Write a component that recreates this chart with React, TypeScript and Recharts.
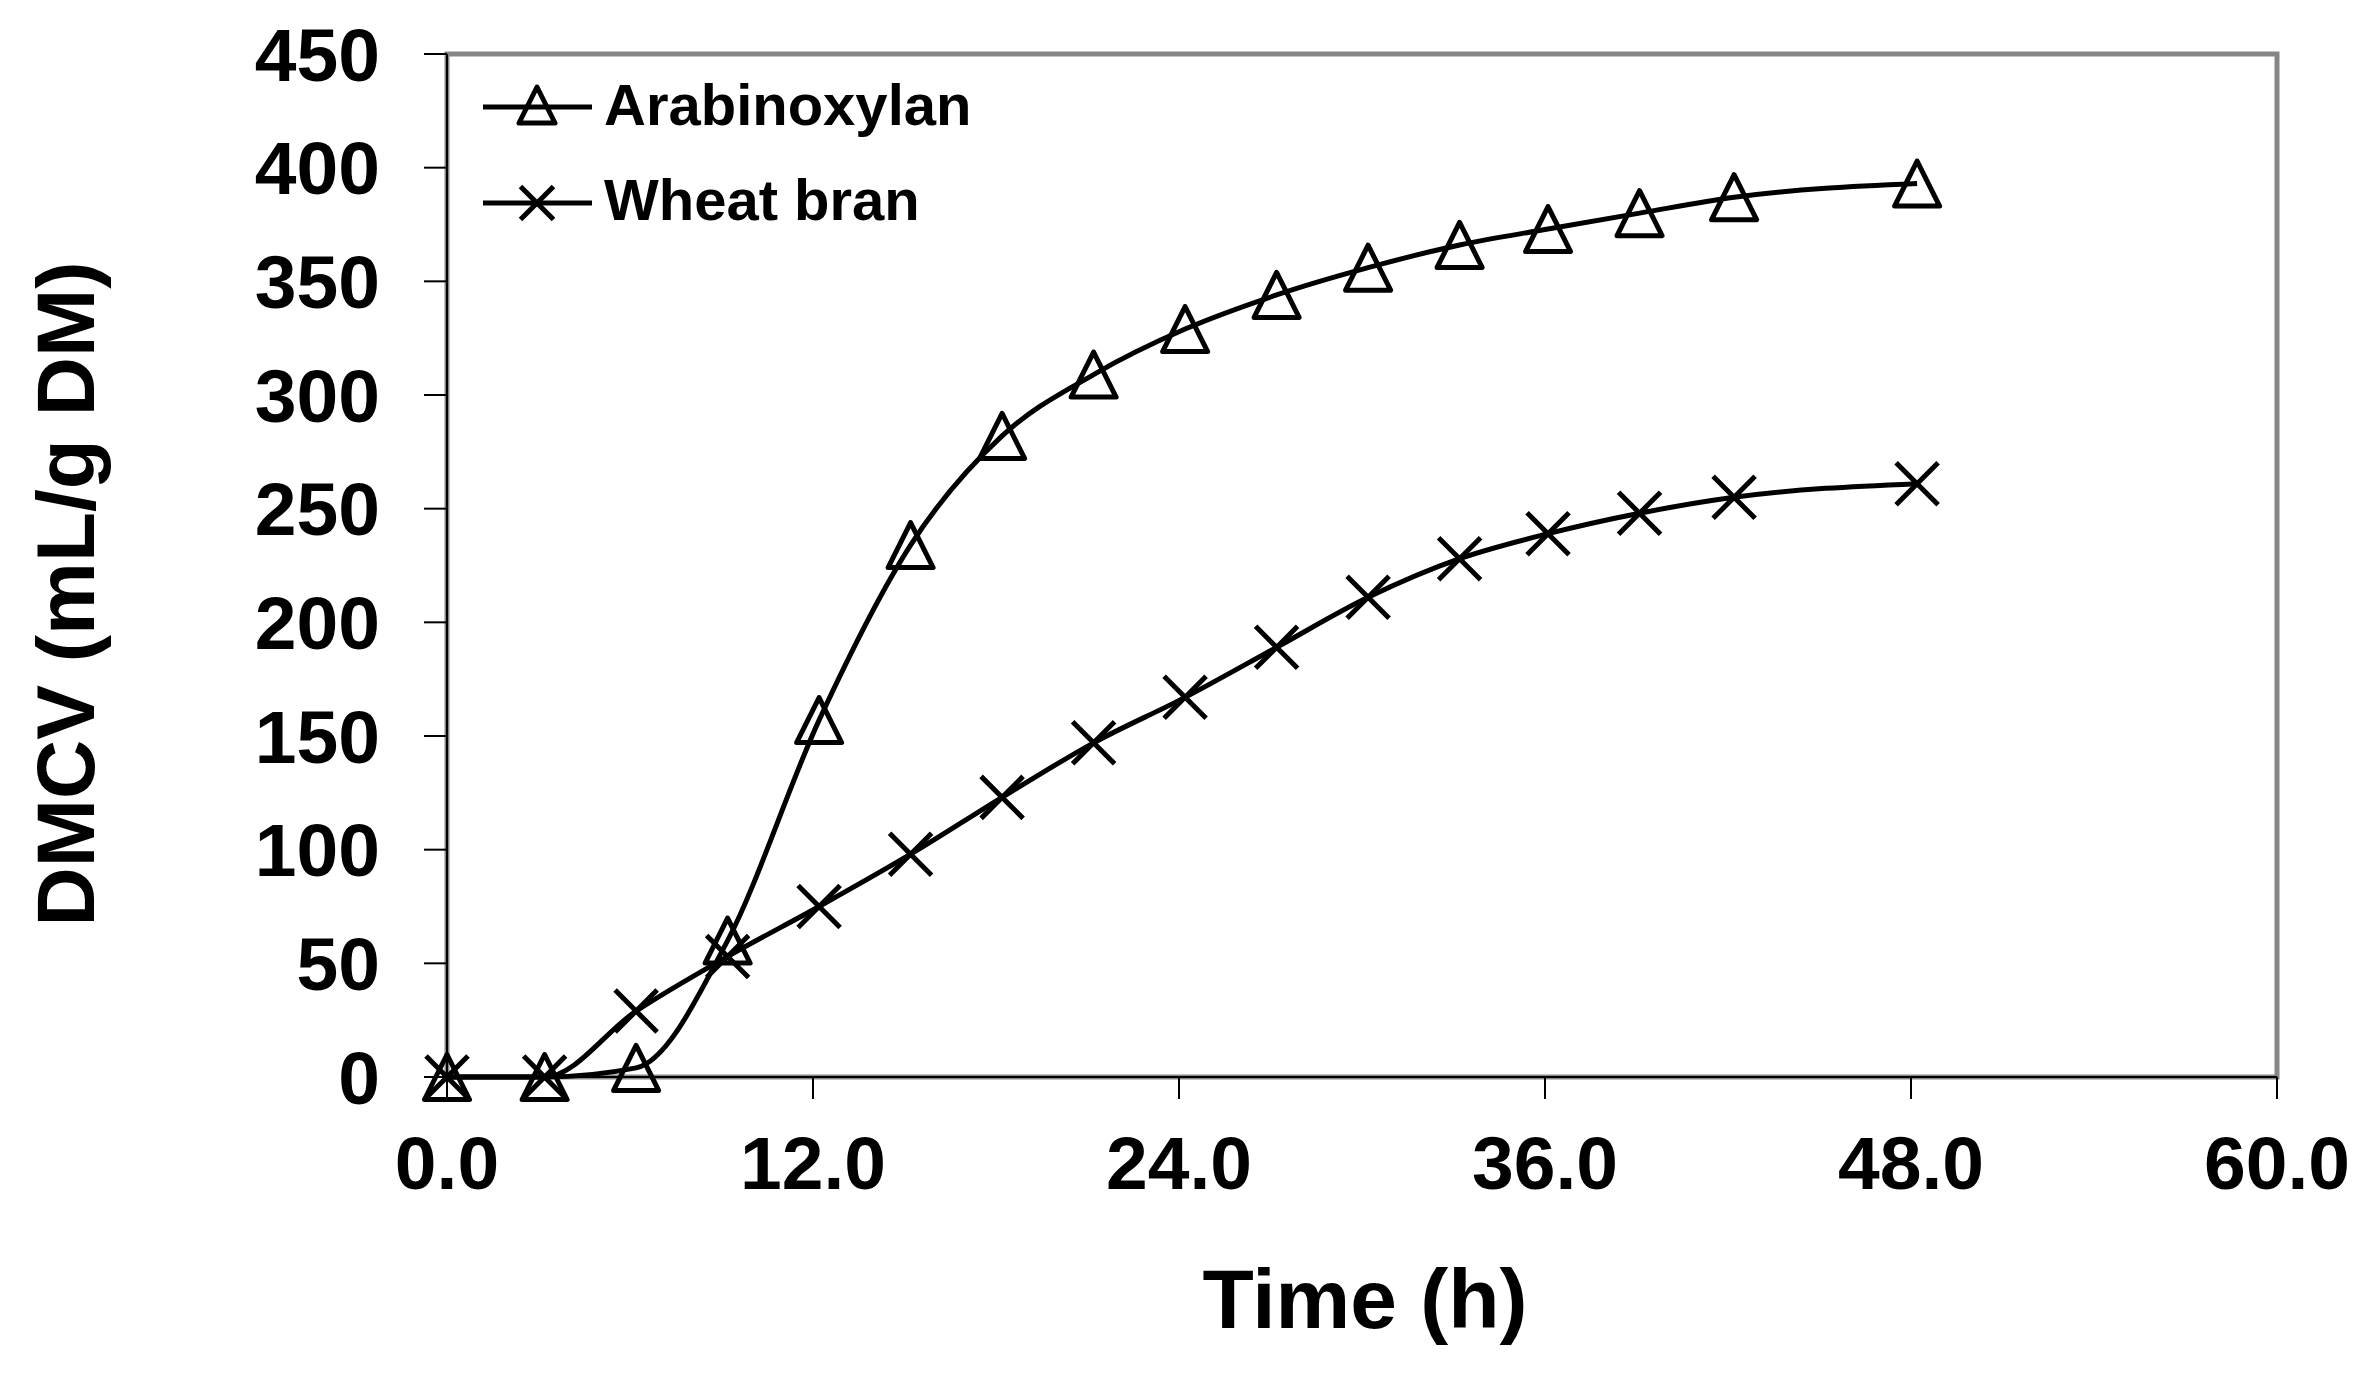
import { LineChart, Line, XAxis, YAxis, ReferenceArea } from 'recharts'

// Time (h) and DMCV (mL/g DM)
const timeH = [0, 3.2, 6.2, 9.2, 12.2, 15.2, 18.2, 21.2, 24.2, 27.2, 30.2, 33.2, 36.1, 39.1, 42.2, 48.2]
const arabinoxylan = [0, 0, 4, 60, 157, 234, 282, 309, 329, 344, 356, 366, 373, 380, 387, 393]
const wheatBran = [0, 0, 29, 53, 75, 98, 123, 147, 167, 189, 211, 228, 239, 248, 255, 261]

const xTicks = [0, 12, 24, 36, 48, 60]
const yTicks = [0, 50, 100, 150, 200, 250, 300, 350, 400, 450]

const seriesNames = ['Arabinoxylan', 'Wheat bran']

const FONT = '"Liberation Sans", Arial, Helvetica, sans-serif'

const data = timeH.map((t, i) => ({
  t,
  arabinoxylan: arabinoxylan[i],
  wheat: wheatBran[i],
}))

function Triangle({ cx, cy, size = 45 }: { cx?: number; cy?: number; size?: number }) {
  if (cx == null || cy == null) return null
  const h = size / 2
  return (
    <path
      d={`M${cx},${cy - h} L${cx + h},${cy + h} L${cx - h},${cy + h} Z`}
      fill="none"
      stroke="#000"
      strokeWidth={5}
      strokeLinejoin="round"
    />
  )
}

function Cross({ cx, cy, size = 42 }: { cx?: number; cy?: number; size?: number }) {
  if (cx == null || cy == null) return null
  const h = size / 2
  return (
    <path
      d={`M${cx - h},${cy - h} L${cx + h},${cy + h} M${cx + h},${cy - h} L${cx - h},${cy + h}`}
      fill="none"
      stroke="#000"
      strokeWidth={5}
    />
  )
}

// legend box, drawn on top of the chart (top-left of the plot)
function ChartLegend() {
  return (
    <svg
      width={560}
      height={200}
      style={{ position: 'absolute', left: 470, top: 70, display: 'block' }}
    >
      <line x1={13} y1={37} x2={122} y2={37} stroke="#000" strokeWidth={5} />
      <Triangle cx={67} cy={35} size={36} />
      <text x={134} y={55} fontSize={58} fontWeight={700} fontFamily={FONT} fill="#000">
        {seriesNames[0]}
      </text>
      <line x1={13} y1={133} x2={122} y2={133} stroke="#000" strokeWidth={5} />
      <Cross cx={67} cy={133} size={33} />
      <text x={134} y={150} fontSize={58} fontWeight={700} fontFamily={FONT} fill="#000">
        {seriesNames[1]}
      </text>
    </svg>
  )
}

export default function App() {
  return (
    <div style={{ position: 'absolute', left: 0, top: 0, width: 2372, height: 1373, background: '#fff' }}>
      <LineChart
        width={2372}
        height={1373}
        data={data}
        margin={{ top: 54, right: 95, left: 0, bottom: 0 }}
      >
        <ReferenceArea
          x1={0}
          x2={60}
          y1={0}
          y2={450}
          fill="none"
          stroke="#868686"
          strokeWidth={5}
          ifOverflow="visible"
        />
        <XAxis
          dataKey="t"
          type="number"
          domain={[0, 60]}
          ticks={xTicks}
          tickFormatter={(v: number) => v.toFixed(1)}
          height={296}
          tickSize={22}
          tickMargin={37}
          axisLine={{ stroke: '#000', strokeWidth: 2 }}
          tickLine={{ stroke: '#000', strokeWidth: 2 }}
          tick={{ fontSize: 75, fontWeight: 700, fill: '#000', fontFamily: FONT }}
          interval={0}
          label={{
            content: () => (
              <text
                x={1365}
                y={1328}
                textAnchor="middle"
                fontSize={84}
                fontWeight={700}
                fontFamily={FONT}
                fill="#000"
              >
                Time (h)
              </text>
            ),
          }}
        />
        <YAxis
          type="number"
          domain={[0, 450]}
          ticks={yTicks}
          width={447}
          tickSize={23}
          tickMargin={44}
          axisLine={{ stroke: '#000', strokeWidth: 2 }}
          tickLine={{ stroke: '#000', strokeWidth: 2 }}
          tick={{ fontSize: 75, fontWeight: 700, fill: '#000', fontFamily: FONT }}
          interval={0}
          label={{
            content: () => (
              <text
                transform="translate(94,594) rotate(-90)"
                textAnchor="middle"
                fontSize={82}
                fontWeight={700}
                fontFamily={FONT}
                fill="#000"
              >
                DMCV (mL/g DM)
              </text>
            ),
          }}
        />
        <Line
          type="monotone"
          dataKey="arabinoxylan"
          name={seriesNames[0]}
          stroke="#000"
          strokeWidth={5}
          dot={(p: any) => <Triangle key={`a${p.index}`} cx={p.cx} cy={p.cy} />}
          activeDot={false}
          isAnimationActive={false}
        />
        <Line
          type="monotone"
          dataKey="wheat"
          name={seriesNames[1]}
          stroke="#000"
          strokeWidth={5}
          dot={(p: any) => <Cross key={`w${p.index}`} cx={p.cx} cy={p.cy} />}
          activeDot={false}
          isAnimationActive={false}
        />
      </LineChart>
      <ChartLegend />
    </div>
  )
}
